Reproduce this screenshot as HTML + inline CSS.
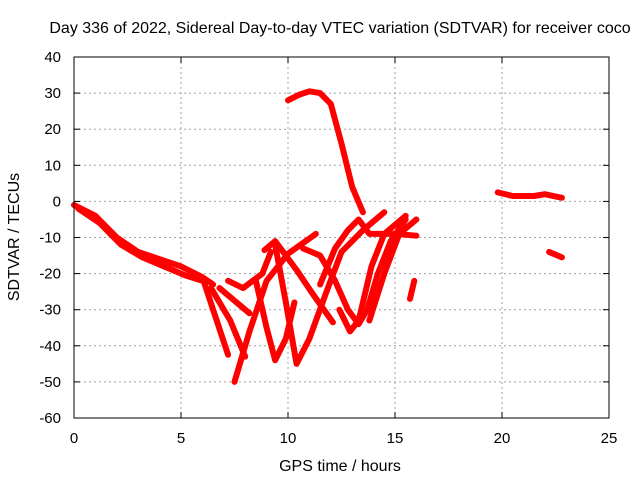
<!DOCTYPE html>
<html><head><meta charset="utf-8"><style>
body{margin:0;background:#fff}
svg{display:block;font-family:"Liberation Sans",sans-serif}
</style></head><body>
<svg id="c" width="640" height="480">
<text x="340" y="33" font-size="16" text-anchor="middle">Day 336 of 2022, Sidereal Day-to-day VTEC variation (SDTVAR) for receiver coco</text>
<text x="340" y="471" font-size="16" text-anchor="middle">GPS time / hours</text>
<text transform="translate(19,237) rotate(-90)" font-size="16" text-anchor="middle">SDTVAR / TECUs</text>
<g id="grid"></g><g id="data"></g><g id="axes"></g>
</svg>
<script>
const xTicks=[0,5,10,15,20,25];
const yTicks=[40,30,20,10,0,-10,-20,-30,-40,-50,-60];
const t1=[[0,-1],[1,-4],[2,-10],[3,-14],[4,-16],[5,-18],[6,-21],[6.5,-23]];
const t2=[[0.2,-2],[1.2,-6],[2.2,-12],[3.2,-15.5],[4.2,-18],[5.2,-20.5],[6,-22]];
const t3=[[6,-21],[6.5,-30],[7.2,-42.5]];
const t4=[[6.4,-24],[7.3,-33],[8,-43]];
const t5=[[7.5,-50],[8.2,-36],[9,-22],[10,-14.5],[11.3,-9]];
const t6=[[7.2,-22],[7.9,-24],[8.8,-20],[9.2,-14]];
const t7=[[6.8,-24],[8.2,-31]];
const t8=[[8.9,-13.5],[9.4,-11],[10.4,-19],[11.2,-26],[12.1,-33.5]];
const t9=[[8.5,-22],[9,-35],[9.4,-44],[9.9,-38],[10.3,-28]];
const t10=[[9.4,-12],[9.9,-28],[10.4,-45],[11,-38],[11.8,-25],[12.5,-14],[13.5,-8],[14.5,-3]];
const t11=[[10.7,-13],[11.5,-15],[12.2,-22],[12.8,-30],[13.3,-34],[13.7,-30],[14.2,-20],[14.8,-11],[15.5,-5]];
const t12=[[12.4,-30],[12.9,-36],[13.3,-33],[13.9,-18],[14.5,-9],[15.5,-4]];
const t13=[[11.5,-23],[12.2,-13],[12.8,-8],[13.3,-5],[13.8,-9],[15,-9],[16,-9.5]];
const t14=[[13.8,-33],[14.5,-20],[15.2,-9],[16,-5]];
const t15=[[15.7,-27],[15.9,-22]];
const t16=[[10,28],[10.5,29.5],[11,30.5],[11.5,30],[12,27],[12.5,16],[13,4],[13.5,-3]];
const t17=[[19.8,2.5],[20.5,1.5],[21.5,1.5],[22,2],[22.8,1]];
const t18=[[22.2,-14],[22.8,-15.5]];
const tracks=[t1,t2,t3,t4,t5,t6,t7,t8,t9,t10,t11,t12,t13,t14,t15,t16,t17,t18];
const X0=74,X1=609,Y0=418,Y1=57;
const sx=v=>X0+(v-0)/25*(X1-X0);
const sy=v=>Y0-(v+60)/100*(Y0-Y1);
const NS='http://www.w3.org/2000/svg';
function mk(tag,parent,attrs){const e=document.createElementNS(NS,tag);for(const k in attrs)e.setAttribute(k,attrs[k]);document.getElementById(parent).appendChild(e);return e;}
xTicks.forEach(v=>{
 if(v>0&&v<25){const g=mk('line','grid',{x1:sx(v),x2:sx(v),y1:Y1,y2:Y0,stroke:'#a0a0a0','stroke-dasharray':'2,3'});
 
 }
 mk('line','axes',{x1:sx(v),x2:sx(v),y1:Y0,y2:Y0-6,stroke:'#000'});
 mk('line','axes',{x1:sx(v),x2:sx(v),y1:Y1,y2:Y1+6,stroke:'#000'});
 const t=mk('text','axes',{x:sx(v),y:Y0+25,'font-size':15,'text-anchor':'middle'});t.textContent=v;
 
 
});
yTicks.forEach(v=>{
 if(v>-60&&v<40){const g=mk('line','grid',{x1:X0,x2:X1,y1:sy(v),y2:sy(v),stroke:'#a0a0a0','stroke-dasharray':'2,3'});
 
 }
 mk('line','axes',{x1:X0,x2:X0+6,y1:sy(v),y2:sy(v),stroke:'#000'});
 mk('line','axes',{x1:X1,x2:X1-6,y1:sy(v),y2:sy(v),stroke:'#000'});
 const t=mk('text','axes',{x:X0-13,y:sy(v)+5,'font-size':15,'text-anchor':'end'});t.textContent=v;
 
 
});
const b=mk('rect','axes',{x:X0,y:Y1,width:X1-X0,height:Y0-Y1,fill:'none',stroke:'#000'});


tracks.forEach(tr=>{
 const p=mk('polyline','data',{points:tr.map(d=>sx(d[0])+','+sy(d[1])).join(' '),fill:'none',stroke:'#f00','stroke-width':6,'stroke-linejoin':'round','stroke-linecap':'round'});
 
 
});
</script>
</body></html>
